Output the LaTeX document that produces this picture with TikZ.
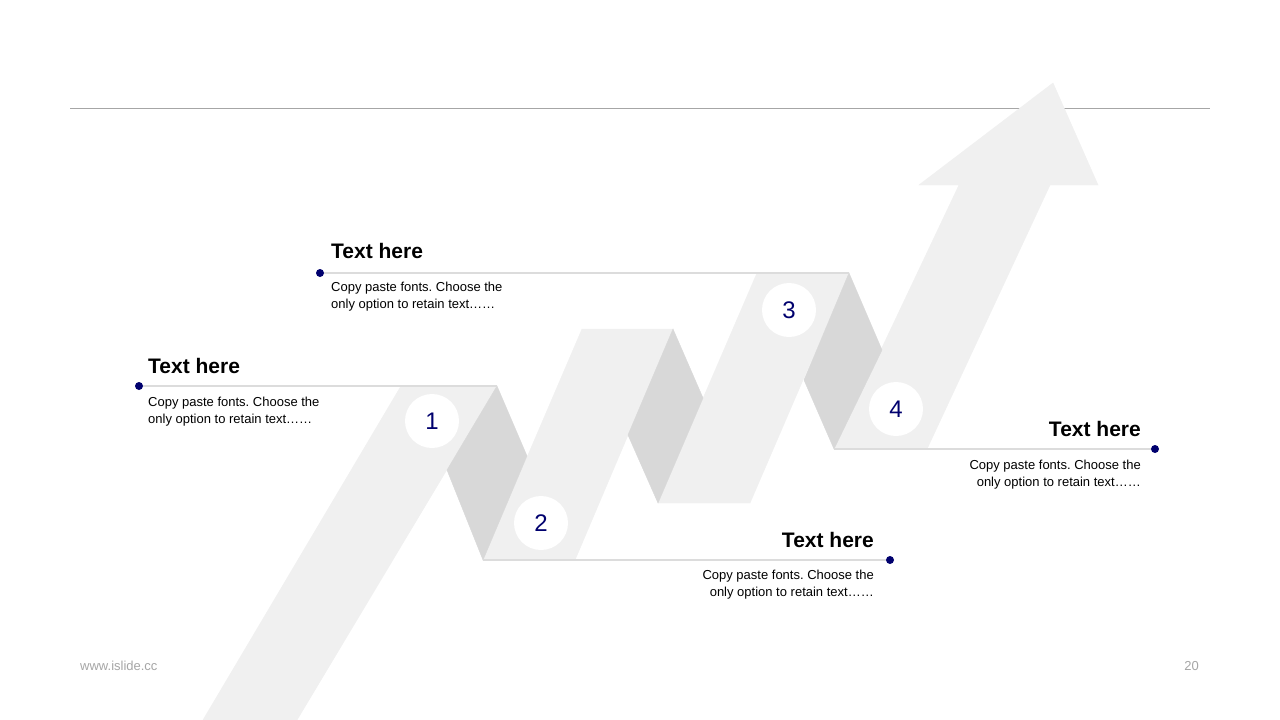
\documentclass[tikz,border=0pt]{standalone}
\usepackage{fontspec}
\setmainfont{Liberation Sans}
\frenchspacing
\definecolor{ribbon}{RGB}{240,240,240}
\definecolor{fold}{RGB}{216,216,216}
\definecolor{navy}{RGB}{0,0,110}
\definecolor{rule}{RGB}{166,166,166}
\definecolor{guide}{RGB}{220,220,220}
\tikzset{
	dot/.style={circle,fill=navy,inner sep=0,minimum size=8pt},
	badge/.style={circle,fill=white,inner sep=0,minimum size=54pt,text=navy,font=\fontsize{24}{24}\selectfont},
	head/.style={inner sep=0,font=\fontsize{21}{25}\selectfont\bfseries},
	body/.style={inner sep=0,font=\fontsize{13}{17}\selectfont},
	foot/.style={inner sep=0,text=rule,font=\fontsize{13}{15}\selectfont}
}
\begin{document}
\begin{tikzpicture}[x=1pt,y=-1pt]
	\path[use as bounding box,fill=white] (0,0) rectangle (1280,720);
	\draw[rule,line width=1pt] (70,108)--(1210,108);
	\path 
	(203,720) coordinate (A) (297,720) coordinate (B) (497,386) coordinate (C) (401,386) coordinate (D)
	(527,456) coordinate (E) (483,560) coordinate (F) (447,470) coordinate (G)
	(575,560) coordinate (H) (673,329) coordinate (I) (582,329) coordinate (J)
	(703,398) coordinate (K) (658,503) coordinate (L) (628,435) coordinate (M)
	(750,503) coordinate (N) (849,273) coordinate (O) (757,273) coordinate (P)
	(882,350) coordinate (Q) (834,449) coordinate (R) (804,380) coordinate (S)
	(927,449) coordinate (T) (1050,185) coordinate (U) (1098,185) coordinate (V)
	(1053,83) coordinate (W) (919,185) coordinate (X) (959,185) coordinate (Y);
	\filldraw[ribbon,line width=.4pt] (A)--(B)--(C)--(D)--cycle (F)--(H)--(I)--(J)--cycle
	(L)--(N)--(O)--(P)--cycle (R)--(T)--(U)--(V)--(W)--(X)--(Y)--cycle;
	\filldraw[fold,line width=.4pt] (C)--(E)--(F)--(G)--cycle (I)--(K)--(L)--(M)--cycle (O)--(Q)--(R)--(S)--cycle;
	\foreach \n/\x/\y in {1/139/386,2/320/273,3/890/560,4/1155/449} \node[dot] (d\n) at (\x,\y) {};
	\draw[guide,line width=1.5pt] (d1)--(C) (d2)--(O) (F)--(d3) (R)--(d4);
	\foreach \n/\x/\y in {1/432/421,2/541/523,3/789/310,4/896/409} \node[badge] (n\n) at (\x,\y) {\n};
	\node[head,anchor=base west] (t1) at (148,373) {Text here};
	\node[body,anchor=north west,align=left] (b1) at (148,396.5) {Copy paste fonts. Choose the\\only option to retain text……};
	\node[head,anchor=base west] (t2) at (331,258) {Text here};
	\node[body,anchor=north west,align=left] (b2) at (331,282) {Copy paste fonts. Choose the\\only option to retain text……};
	\node[head,anchor=base east] (t3) at (874,547) {Text here};
	\node[body,anchor=north east,align=right] (b3) at (874,570) {Copy paste fonts. Choose the\\only option to retain text……};
	\node[head,anchor=base east] (t4) at (1141,436) {Text here};
	\node[body,anchor=north east,align=right] (b4) at (1141,459.5) {Copy paste fonts. Choose the\\only option to retain text……};
	\node[foot,anchor=base west] (web) at (80,670) {www.islide.cc};
	\node[foot,anchor=base east] (page) at (1199,670) {20};
\end{tikzpicture}
\end{document}
